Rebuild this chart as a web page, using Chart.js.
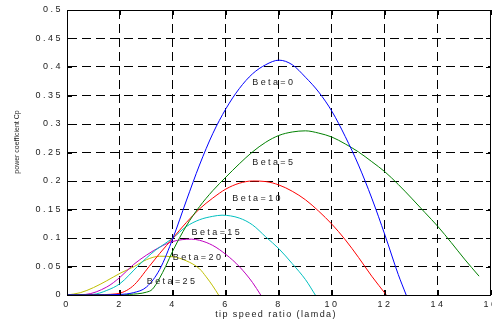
<!DOCTYPE html>
<html>
<head>
<meta charset="utf-8">
<script src="https://cdn.jsdelivr.net/npm/chart.js@4"></script>
<style>
  html, body { margin: 0; padding: 0; background: #fff; overflow: hidden; }
  #wrap { width: 500px; height: 326px; }
</style>
</head>
<body>
<div id="wrap"><canvas id="cpChart" width="500" height="326"></canvas></div>
<script>
    const betaValues = [0, 5, 10, 15, 20, 25];

    const tsrBeta0 = [0, 1, 2, 2.5, 3, 3.5, 4, 4.5, 5, 5.5, 6, 6.5, 7, 7.5, 8, 8.5, 9, 9.5, 10, 10.5, 11, 11.5, 12, 12.5, 12.8];
    const cpBeta0  = [0, 0, 0.001, 0.004, 0.014, 0.045, 0.1, 0.165, 0.228, 0.283, 0.327, 0.362, 0.388, 0.404, 0.412, 0.404, 0.382, 0.356, 0.322, 0.278, 0.228, 0.17, 0.105, 0.036, 0];

    const tsrBeta5 = [0, 1, 2, 2.35, 3, 3.22, 3.5, 3.72, 4, 4.5, 5, 5.5, 6, 6.5, 7, 7.5, 8, 8.5, 9, 9.5, 10, 10.5, 11, 11.5, 12, 12.5, 13, 13.5, 14, 14.5, 15, 15.55];
    const cpBeta5  = [0, 0, 0, 0.001, 0.005, 0.01, 0.03, 0.05, 0.078, 0.121, 0.155, 0.183, 0.207, 0.23, 0.251, 0.268, 0.28, 0.286, 0.288, 0.284, 0.277, 0.265, 0.251, 0.234, 0.216, 0.194, 0.17, 0.145, 0.12, 0.092, 0.063, 0.033];

    const tsrBeta10 = [0, 1, 1.85, 2.47, 3.1, 3.5, 4, 4.5, 5, 5.5, 6, 6.5, 7, 7.5, 8, 8.5, 9, 9.5, 10, 10.5, 11, 11.5, 12.05];
    const cpBeta10  = [0, 0.0005, 0.002, 0.015, 0.05, 0.073, 0.1, 0.127, 0.151, 0.17, 0.186, 0.196, 0.2, 0.199, 0.193, 0.182, 0.167, 0.147, 0.124, 0.097, 0.066, 0.033, 0];

    const tsrBeta15 = [0, 0.97, 1.5, 2, 2.66, 3, 3.35, 4, 4.5, 5, 5.5, 5.85, 6.5, 7, 7.5, 8, 8.5, 9, 9.37];
    const cpBeta15  = [0, 0.001, 0.008, 0.02, 0.05, 0.065, 0.079, 0.1, 0.12, 0.132, 0.138, 0.14, 0.135, 0.123, 0.102, 0.081, 0.055, 0.027, 0];

    const tsrBeta20 = [0, 0.7, 1.5, 2, 2.5, 3, 3.5, 4, 4.69, 5, 5.5, 6, 6.5, 7, 7.31];
    const cpBeta20  = [0, 0.001, 0.014, 0.031, 0.053, 0.07, 0.084, 0.094, 0.098, 0.096, 0.087, 0.071, 0.05, 0.022, 0];

    const tsrBeta25 = [0, 0.5, 1, 1.5, 2, 2.54, 3, 3.5, 4, 4.5, 5, 5.25, 5.5, 5.72];
    const cpBeta25  = [0, 0.004, 0.013, 0.025, 0.038, 0.05, 0.062, 0.068, 0.067, 0.06, 0.046, 0.032, 0.016, 0];

    const xTickLabels = ['0', '2', '4', '6', '8', '10', '12', '14', '16'];
    const yTickLabels = ['0', '0.05', '0.1', '0.15', '0.2', '0.25', '0.3', '0.35', '0.4', '0.45', '0.5'];

    // label anchors (data units) for the Beta=.. texts
    const labelX = [6.99, 6.99, 6.24, 4.7, 3.99, 3.01];
    const labelY = [0.372, 0.232, 0.170, 0.11, 0.065, 0.023];

    const tsrSeries = [tsrBeta0, tsrBeta5, tsrBeta10, tsrBeta15, tsrBeta20, tsrBeta25];
    const cpSeries = [cpBeta0, cpBeta5, cpBeta10, cpBeta15, cpBeta20, cpBeta25];
    const colors = ['#0000ff', '#008000', '#ff0000', '#00bfbf', '#bf00bf', '#bfbf00'];

    const datasets = betaValues.map((b, i) => ({
        label: 'Beta=' + b,
        data: tsrSeries[i].map((x, j) => ({ x: x, y: cpSeries[i][j] })),
        borderColor: colors[i],
        borderWidth: 1,
        pointRadius: 0,
        fill: false,
        cubicInterpolationMode: 'monotone'
    }));

    const textFont = "'Liberation Sans', Arial, sans-serif";

    const spacingPlugin = {
        id: 'spacing',
        beforeDraw(chart) {
            chart.ctx.letterSpacing = '2.5px';
        }
    };

    const framePlugin = {
        id: 'frame',
        afterDraw(chart) {
            const ctx = chart.ctx;
            const a = chart.chartArea;
            const xs = chart.scales.x, ys = chart.scales.y;
            ctx.save();
            ctx.letterSpacing = '0px';
            ctx.strokeStyle = '#000';
            ctx.lineWidth = 1;
            ctx.setLineDash([]);
            ctx.strokeRect(a.left + 0.5, a.top + 0.5, a.right - a.left - 1, a.bottom - a.top);
            ctx.beginPath();
            xs.ticks.forEach(t => {
                const px = Math.round(xs.getPixelForValue(t.value)) + 0.5;
                ctx.moveTo(px, a.bottom); ctx.lineTo(px, a.bottom - 5);
                ctx.moveTo(px, a.top); ctx.lineTo(px, a.top + 5);
            });
            ys.ticks.forEach(t => {
                const py = Math.round(ys.getPixelForValue(t.value)) + 0.5;
                ctx.moveTo(a.left, py); ctx.lineTo(a.left + 5, py);
                ctx.moveTo(a.right, py); ctx.lineTo(a.right - 5, py);
            });
            ctx.stroke();

            // curve labels
            ctx.fillStyle = '#222';
            ctx.font = '9px ' + textFont;
            ctx.letterSpacing = '2.4px';
            ctx.textBaseline = 'middle';
            ctx.textAlign = 'left';
            betaValues.forEach((b, i) => {
                ctx.fillText('Beta=' + b, xs.getPixelForValue(labelX[i]), ys.getPixelForValue(labelY[i]));
            });

            // axis titles
            ctx.letterSpacing = '1.4px';
            ctx.textAlign = 'center';
            ctx.fillText('tip speed ratio (lamda)', 276, 315);

            ctx.letterSpacing = '0px';
            ctx.font = '7px ' + textFont;
            ctx.translate(17, 142);
            ctx.rotate(-Math.PI / 2);
            ctx.fillText('power coefficient Cp', 0, 0);
            ctx.restore();
        }
    };

    new Chart(document.getElementById('cpChart').getContext('2d'), {
        type: 'line',
        data: { datasets: datasets },
        plugins: [spacingPlugin, framePlugin],
        options: {
            responsive: false,
            devicePixelRatio: 1,
            animation: false,
            layout: { padding: { left: 0, right: 7, top: 10, bottom: 0 } },
            plugins: {
                legend: { display: false },
                tooltip: { enabled: false }
            },
            scales: {
                x: {
                    type: 'linear',
                    min: 0,
                    max: 16,
                    afterFit: s => { s.height = 31; },
                    grid: { color: '#000', lineWidth: 1, drawTicks: false },
                    border: { display: true, color: '#000', dash: [9, 5] },
                    ticks: {
                        stepSize: 2,
                        padding: 4,
                        color: '#222',
                        font: { family: textFont, size: 9 },
                        maxRotation: 0,
                        callback: (v, i) => xTickLabels[i]
                    }
                },
                y: {
                    min: 0,
                    max: 0.5,
                    afterFit: s => { s.width = 67; },
                    grid: { color: '#000', lineWidth: 1, drawTicks: false },
                    border: { display: true, color: '#000', dash: [9, 5] },
                    ticks: {
                        stepSize: 0.05,
                        padding: 4,
                        color: '#222',
                        font: { family: textFont, size: 9 },
                        callback: (v, i) => yTickLabels[i]
                    }
                }
            }
        }
    });
</script>
</body>
</html>
